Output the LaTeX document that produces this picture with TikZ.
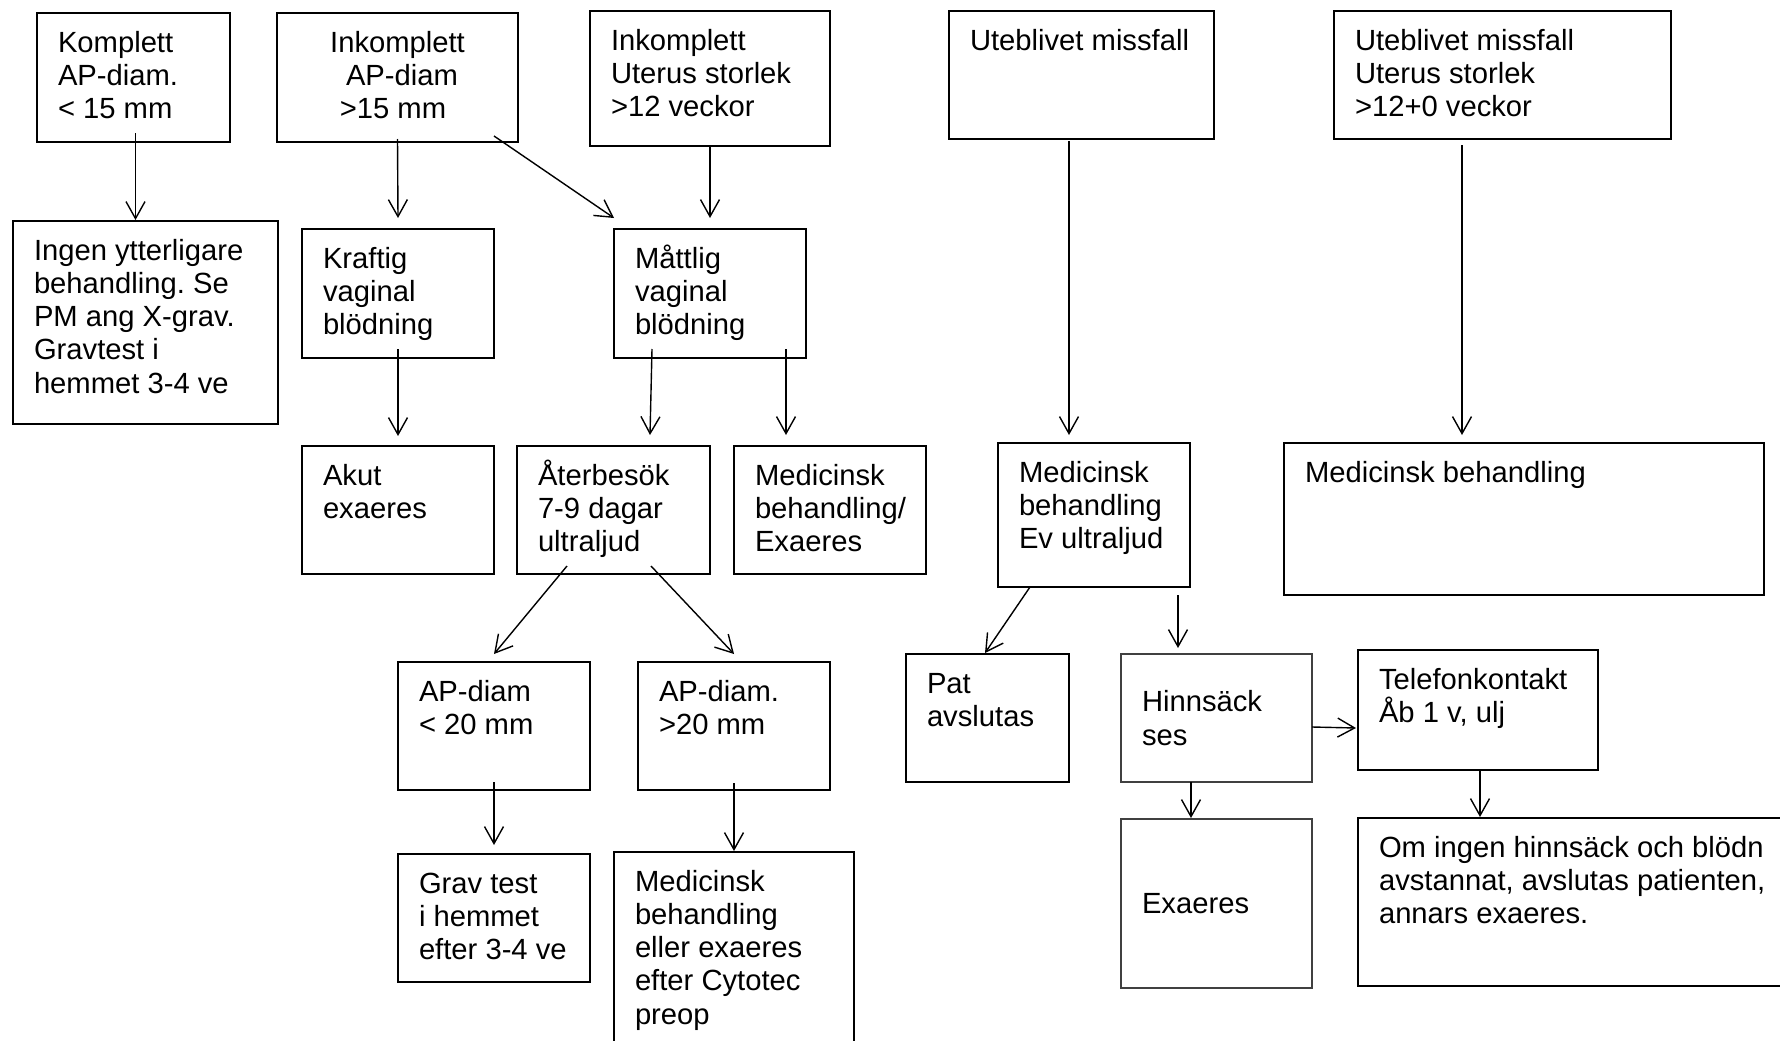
\documentclass[tikz,border=0pt]{standalone}
\usepackage{fontspec}
\setmainfont{Liberation Sans}
\usepackage{tikz}
\usetikzlibrary{arrows.meta}
\frenchspacing

% text block in a box, first line set 39pt below the top edge
\newcommand{\boxtext}[3]{\parbox[c][#2][t]{#1}{\raggedright\rule{0pt}{39pt}#3}}

\begin{document}
\begin{tikzpicture}[x=1pt, y=-1pt,
    every node/.style={font=\fontsize{29.2pt}{33.3pt}\selectfont},
    box/.style={draw, line width=2pt, inner xsep=21pt, inner ysep=0pt, outer sep=0pt, anchor=north west},
    thinbox/.style={box, line width=1.5pt},
    graybox/.style={box, draw=black!75, line width=1.1pt},
    arr/.style={-{Straight Barb[length=17pt, width=19pt]}, line width=1.4pt}]

\useasboundingbox (0,0) rectangle (1780,1041);
\fill[white] (0,0) rectangle (1780,1041);

% Top row
\node[box] (komplett) at (37,13) {\boxtext{151pt}{129pt}{Komplett\\AP-diam.\\< 15 mm}};
\node[box] (inkdiam) at (277,13) {\parbox[c][129pt][t]{199pt}{\centering\rule{0pt}{39pt}Inkomplett\\\hspace*{9pt}AP-diam\\>15 mm\hspace*{9pt}}};
\node[box] (inkuterus) at (590,11) {\boxtext{198pt}{135pt}{Inkomplett\\Uterus storlek\\>12 veckor}};
\node[box] (utebl) at (949,11) {\boxtext{223pt}{128pt}{Uteblivet missfall}};
\node[box] (utebluterus) at (1334,11) {\boxtext{295pt}{128pt}{Uteblivet missfall\\Uterus storlek\\>12+0 veckor}};

% Second row
\node[box] (ingen) at (13,221) {\boxtext{223pt}{203pt}{Ingen ytterligare\\behandling. Se\\PM ang X-grav.\\Gravtest i\\hemmet 3-4 ve}};
\node[box] (kraftig) at (302,229) {\boxtext{150pt}{129pt}{Kraftig\\vaginal\\blödning}};
\node[box] (mattlig) at (614,229) {\boxtext{150pt}{129pt}{Måttlig\\vaginal\\blödning}};

% Third row
\node[box] (akut) at (302,446) {\boxtext{150pt}{128pt}{Akut\\exaeres}};
\node[box] (aterbesok) at (517,446) {\boxtext{151pt}{128pt}{Återbesök\\7-9 dagar\\ultraljud}};
\node[box] (medexa) at (734,446) {\boxtext{150pt}{128pt}{Medicinsk\\behandling/\\Exaeres}};
\node[box] (medultra) at (998,443) {\boxtext{150pt}{144pt}{Medicinsk\\behandling\\Ev ultraljud}};
\node[box] (medbeh) at (1284,443) {\boxtext{438pt}{152pt}{Medicinsk behandling}};

% Fourth row
\node[box] (diamsmall) at (398,662) {\boxtext{150pt}{128pt}{AP-diam\\< 20 mm}};
\node[box] (diamlarge) at (638,662) {\boxtext{150pt}{128pt}{AP-diam.\\>20 mm}};
\node[thinbox] (patavsl) at (906,654) {\boxtext{121pt}{128pt}{Pat\\avslutas}};
\node[graybox] (hinnsack) at (1121,654) {\parbox[c][128pt][c]{149pt}{\raggedright Hinnsäck\\ses}};
\node[box] (telefon) at (1358,650) {\boxtext{198pt}{120pt}{Telefonkontakt\\Åb 1 v, ulj}};

% Bottom row
\node[box] (gravtest) at (398,854) {\boxtext{150pt}{128pt}{Grav test\\i hemmet\\efter 3-4 ve}};
\node[box] (medeller) at (614,852) {\boxtext{198pt}{220pt}{Medicinsk\\behandling\\eller exaeres\\efter Cytotec\\preop}};
\node[graybox] (exaeres) at (1121,819) {\parbox[c][169pt][c]{149pt}{\raggedright Exaeres}};
\node[box] (omingen) at (1358,818) {\boxtext{408pt}{168pt}{Om ingen hinnsäck och blödn\\avstannat, avslutas patienten,\\annars exaeres.}};

% Arrows
\draw[arr] ([shift={(2pt,9pt)}]komplett.south) -- ([shift={(-10pt,1pt)}]ingen.north);
\draw[arr] ([yshift=3pt]inkdiam.south) -- ([yshift=11pt]kraftig.north);
\draw[arr] ([shift={(-24pt,6pt)}]inkdiam.south east) -- ([yshift=11pt]mattlig.north west);
\draw[arr] (inkuterus.south) -- ([yshift=11pt]mattlig.north);
\draw[arr] ([yshift=9pt]kraftig.south) -- ([yshift=10pt]akut.north);
\draw[arr] ([shift={(38pt,9pt)}]mattlig.south west) -- ([shift={(-60pt,11pt)}]aterbesok.north east);
\draw[arr] ([shift={(-20pt,9pt)}]mattlig.south east) -- ([shift={(52pt,11pt)}]medexa.north west);
\draw[arr] ([shift={(120pt,-2pt)}]utebl.south west) -- ([shift={(71pt,8pt)}]medultra.north west);
\draw[arr] ([shift={(128pt,-6pt)}]utebluterus.south west) -- ([shift={(178pt,8pt)}]medbeh.north west);
\draw[arr] ([shift={(50pt,8pt)}]aterbesok.south west) -- ([yshift=8pt]diamsmall.north);
\draw[arr] ([shift={(-59pt,8pt)}]aterbesok.south east) -- ([yshift=8pt]diamlarge.north);
\draw[arr] ([yshift=8pt]diamsmall.south) -- ([yshift=9pt]gravtest.north);
\draw[arr] ([yshift=7pt]diamlarge.south) -- ([yshift=1pt]medeller.north);
\draw[arr] ([xshift=32pt]medultra.south west) -- ([shift={(79pt,1pt)}]patavsl.north west);
\draw[arr] ([shift={(-12pt,-8pt)}]medultra.south east) -- ([shift={(57pt,6pt)}]hinnsack.north west);
\draw[arr] ([xshift=70pt]hinnsack.south west) -- ([shift={(70pt,1pt)}]exaeres.north west);
\draw[arr] ([yshift=-9pt]hinnsack.east) -- ([shift={(-2pt,-18pt)}]telefon.west);
\draw[arr] ([xshift=2pt]telefon.south) -- ([shift={(122pt,1pt)}]omingen.north west);

\end{tikzpicture}
\end{document}
